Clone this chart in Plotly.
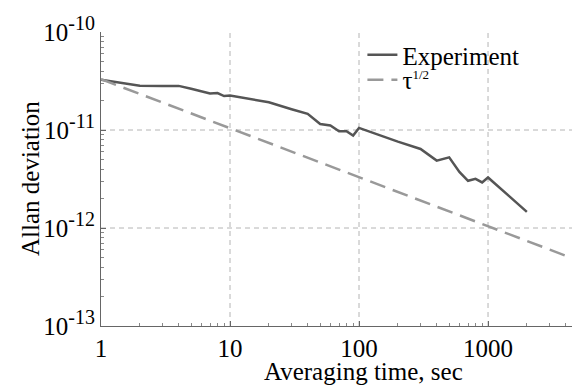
import plotly.graph_objects as go

# Experiment data (averaging time in sec, Allan deviation)
tau_exp = [1, 2, 3, 4, 5, 6, 7, 8, 9, 10, 20, 30, 40, 50, 60, 70, 80, 90, 100,
           200, 300, 400, 500, 600, 700, 800, 900, 1000, 2000]
adev_exp = [3.26e-11, 2.83e-11, 2.82e-11, 2.82e-11, 2.64e-11, 2.5e-11, 2.36e-11, 2.38e-11, 2.22e-11, 2.25e-11,
            1.92e-11, 1.63e-11, 1.46e-11, 1.15e-11, 1.11e-11, 9.7e-12, 9.7e-12, 8.77e-12, 1.05e-11,
            7.6e-12, 6.4e-12, 4.87e-12, 5.26e-12, 3.73e-12, 3.03e-12, 3.17e-12, 2.92e-12, 3.28e-12, 1.46e-12]

# tau^(1/2) reference line endpoints
tau_ref = [1, 4470]
ref_coef = 3.3e-11
adev_ref = [ref_coef * t ** -0.5 for t in tau_ref]

x_tickvals = [1, 10, 100, 1000]
x_ticktext = ["1", "10", "100", "1000"]
y_tickvals = [1e-13, 1e-12, 1e-11, 1e-10]
y_exponents = ["-13", "-12", "-11", "-10"]
y_ticktext = ["10<sup><span style='font-size:20px'>%s</span></sup>" % e for e in y_exponents]
x_grid = [10, 100, 1000]
y_grid = [1e-12, 1e-11]

FONT = "Liberation Serif"
fig = go.Figure()
fig.add_trace(go.Scatter(x=tau_exp, y=adev_exp, mode="lines", name="Experiment", legend="legend",
                         line=dict(color="#555555", width=2.5)))
fig.add_trace(go.Scatter(x=tau_ref, y=adev_ref, mode="lines",
                         name="τ<sup><span style='font-size:13px'>1/2</span></sup>", legend="legend2",
                         line=dict(color="#999999", width=2.5, dash="16px,8px")))

shapes = []
for gx in x_grid:
    shapes.append(dict(type="line", xref="x", yref="paper", x0=gx, x1=gx, y0=0, y1=1,
                       line=dict(color="#b4b4b4", width=1, dash="5px,4px"), layer="below"))
for gy in y_grid:
    shapes.append(dict(type="line", xref="paper", yref="y", x0=0, x1=1, y0=gy, y1=gy,
                       line=dict(color="#b4b4b4", width=1, dash="5px,4px"), layer="below"))

axis_common = dict(showgrid=False, zeroline=False, showline=True, linecolor="#666666", linewidth=1,
                   ticks="inside", ticklen=5, tickcolor="#666666",
                   tickfont=dict(family=FONT, size=25, color="black"),
                   minor=dict(ticks="inside", ticklen=3, tickcolor="#888888", dtick="D1", showgrid=False))

leg_common = dict(xanchor="left", yanchor="top", bgcolor="rgba(0,0,0,0)",
                  font=dict(family=FONT, size=25, color="black"), itemwidth=30)

fig.update_layout(
    width=572, height=387,
    margin=dict(l=101, r=0, t=32, b=61),
    paper_bgcolor="white", plot_bgcolor="white",
    font=dict(family=FONT, size=25, color="black"),
    shapes=shapes,
    xaxis=dict(type="log", range=[0, 3.651], tickmode="array", tickvals=x_tickvals, ticktext=x_ticktext,
               **axis_common),
    yaxis=dict(type="log", range=[-13, -10], tickmode="array", tickvals=y_tickvals, ticktext=y_ticktext,
               **axis_common),
    legend=dict(x=0.555, y=1.0, **leg_common),
    legend2=dict(x=0.555, y=0.915, **leg_common),
    showlegend=True,
    annotations=[
        dict(text="Averaging time, sec", xref="paper", yref="paper", x=(363 - 101) / 471, y=-0.155,
             xanchor="center", yanchor="middle", showarrow=False, font=dict(family=FONT, size=25)),
        dict(text="Allan deviation", xref="paper", yref="paper", x=(30 - 101) / 471, y=0.5,
             xanchor="center", yanchor="middle", textangle=-90, showarrow=False,
             font=dict(family=FONT, size=25)),
    ],
)
fig.write_html("out.html")
